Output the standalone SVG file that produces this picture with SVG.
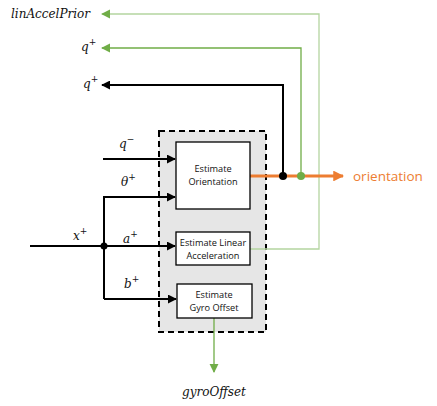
<svg xmlns="http://www.w3.org/2000/svg" width="437" height="406" viewBox="0 0 437 406">
<style>
.math{font-family:"DejaVu Serif","Liberation Serif",serif;font-style:italic;font-size:12px;fill:#111}
.sup{font-size:9px}
.box{fill:#fff;stroke:#000;stroke-width:1.3}
.lbl{font-family:"Open Sans","Liberation Sans",sans-serif;font-size:9.2px;fill:#111;text-anchor:middle}
.k{stroke:#000;stroke-width:2;fill:none}
.g{stroke:#70ad47;stroke-width:1.3;fill:none}
.lg{stroke:#b4d5a0;stroke-width:1.3;fill:none}
.o{stroke:#ed7d31;stroke-width:3;fill:none}
</style>
<defs>
<marker id="ak" viewBox="0 0 10 10" refX="9" refY="5" markerWidth="4.5" markerHeight="4.5" markerUnits="strokeWidth" orient="auto"><path d="M0,0L10,5L0,10z" fill="#000"/></marker>
<marker id="ag" viewBox="0 0 10 10" refX="9" refY="5" markerWidth="7" markerHeight="7" markerUnits="strokeWidth" orient="auto"><path d="M0,0L10,5L0,10z" fill="#70ad47"/></marker>
<marker id="ao" viewBox="0 0 10 10" refX="9" refY="5" markerWidth="3.6" markerHeight="3.6" markerUnits="strokeWidth" orient="auto"><path d="M0,0L10,5L0,10z" fill="#ed7d31"/></marker>
</defs>
<g id="container"><rect x="159" y="131" width="107" height="201" fill="#e6e6e6" stroke="#000" stroke-width="2" stroke-dasharray="6,4"/></g>
<g id="connectors">
<path class="lg" d="M250,249H319V14H102" marker-end="url(#ag)"/>
<path class="g" d="M301,176V48H102" marker-end="url(#ag)"/>
<path class="k" d="M283,176V85H102" marker-end="url(#ak)"/>
<path class="o" d="M250,176H343" marker-end="url(#ao)"/>
<circle cx="283" cy="176" r="4" fill="#000"/>
<circle cx="301" cy="176" r="4" fill="#70ad47"/>
<path class="k" d="M103,159H175" marker-end="url(#ak)"/>
<path class="k" d="M30,246H175" marker-end="url(#ak)"/>
<path class="k" d="M104,299V197H175" marker-end="url(#ak)"/>
<path class="k" d="M104,299H176" marker-end="url(#ak)"/>
<circle cx="104" cy="246" r="3.5" fill="#000"/>
<path class="g" d="M214,318V372" marker-end="url(#ag)"/>
</g>
<g id="estimateOrientation"><rect class="box" x="176" y="142" width="74" height="67"/><text class="lbl" x="213" y="172">Estimate</text><text class="lbl" x="213" y="185">Orientation</text></g>
<g id="estimateLinearAcceleration"><rect class="box" x="176" y="232" width="74" height="33"/><text class="lbl" x="213" y="246">Estimate Linear</text><text class="lbl" x="213" y="259">Acceleration</text></g>
<g id="estimateGyroOffset"><rect class="box" x="177" y="284" width="75" height="34"/><text class="lbl" x="214" y="298">Estimate</text><text class="lbl" x="214" y="311">Gyro Offset</text></g>
<g id="labels">
<text class="math" x="11" y="18">linAccelPrior</text>
<text class="math" x="81" y="51">q<tspan class="sup" dy="-6">+</tspan></text>
<text class="math" x="83" y="88">q<tspan class="sup" dy="-6">+</tspan></text>
<text class="math" x="119" y="148">q<tspan class="sup" dy="-6">−</tspan></text>
<text class="math" x="121" y="186">θ<tspan class="sup" dy="-6">+</tspan></text>
<text class="math" x="73" y="240">x<tspan class="sup" dy="-6">+</tspan></text>
<text class="math" x="123" y="243">a<tspan class="sup" dy="-6">+</tspan></text>
<text class="math" x="124" y="288">b<tspan class="sup" dy="-6">+</tspan></text>
<text class="math" x="214" y="396" text-anchor="middle">gyroOffset</text>
<text x="353" y="181" font-family="'Open Sans','Liberation Sans',sans-serif" font-size="13.5" fill="#ed7d31">orientation</text>
</g>
</svg>
